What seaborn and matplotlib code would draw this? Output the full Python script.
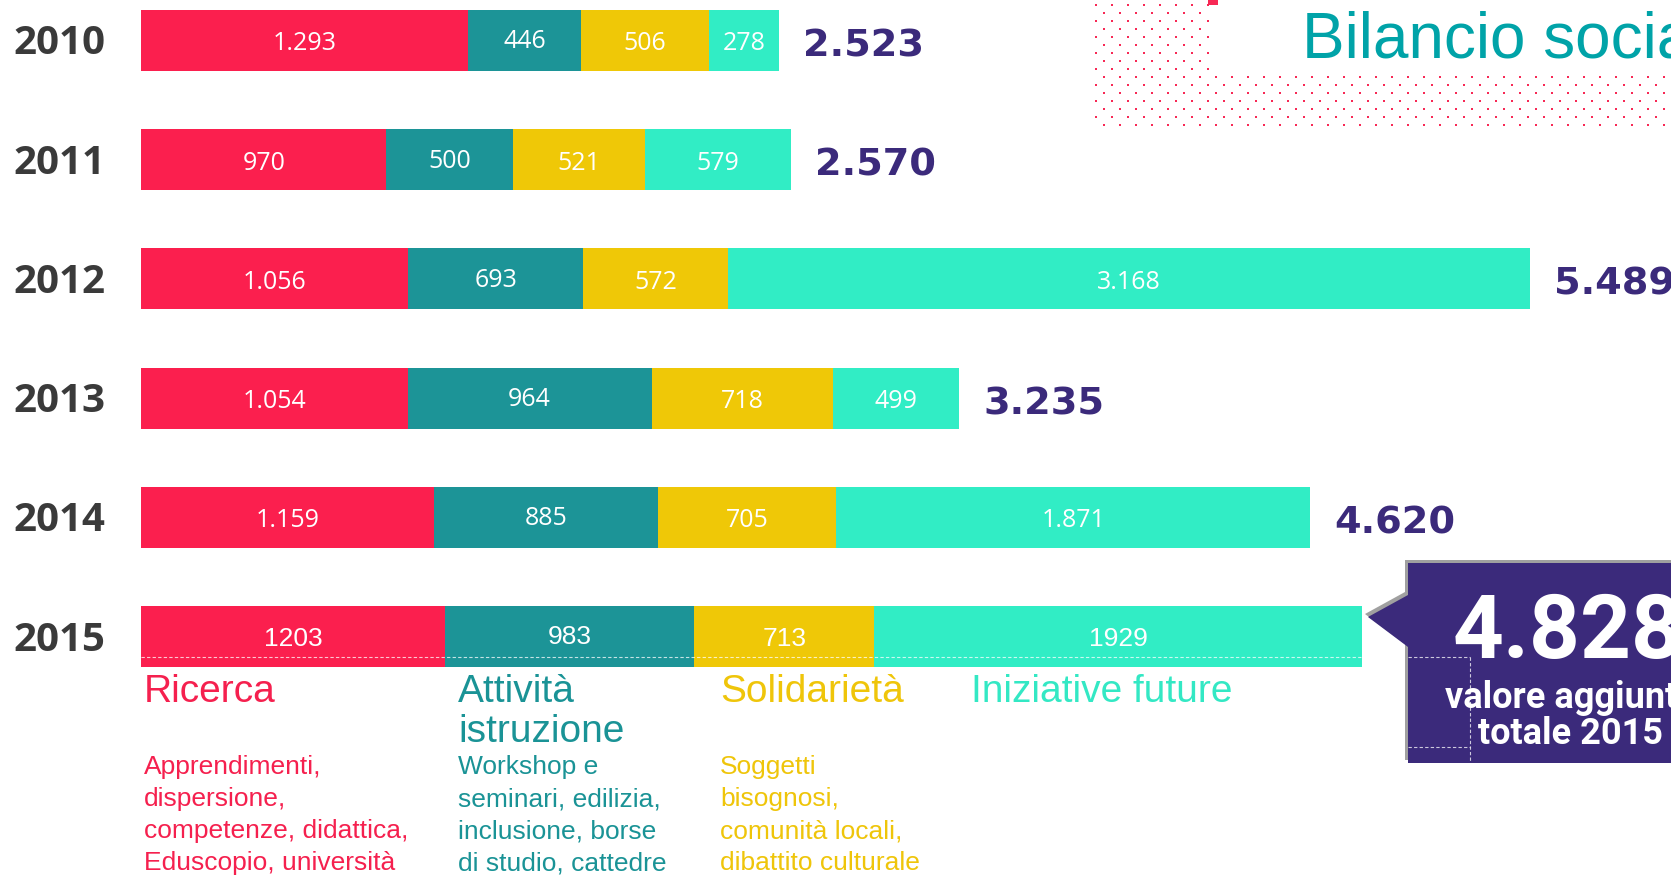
import numpy as np
import pandas as pd
import seaborn as sns
import matplotlib.pyplot as plt
from matplotlib.patches import Polygon, Rectangle

years = ["2010", "2011", "2012", "2013", "2014", "2015"]
categories = ["Ricerca", "Attività istruzione", "Solidarietà", "Iniziative future"]
ricerca = [1293, 970, 1056, 1054, 1159, 1203]
istruzione = [446, 500, 693, 964, 885, 983]
solidarieta = [506, 521, 572, 718, 705, 713]
future = [278, 579, 3168, 499, 1871, 1929]

category_titles = ["Ricerca", "Attività\nistruzione", "Solidarietà", "Iniziative future"]
descriptions = [
    ["Apprendimenti,", "dispersione,", "competenze, didattica,", "Eduscopio, università"],
    ["Workshop e", "seminari, edilizia,", "inclusione, borse", "di studio, cattedre"],
    ["Soggetti", "bisognosi,", "comunità locali,", "dibattito culturale"],
    [],
]
title = "Bilancio sociale"
callout_lines = ["valore aggiunto", "totale 2015"]

colors = {"Ricerca": "#FB1F4E", "Attività istruzione": "#1C9497",
          "Solidarietà": "#EFC807", "Iniziative future": "#31EDC5"}
text_colors = ["#F5204E", "#1A9396", "#EFC50A", "#33E8C4"]
purple = "#3B2A7B"
narrow = ["Liberation Sans Narrow", "Liberation Sans"]


def it_fmt(v):
    return f"{v:,}".replace(",", ".")


values = np.array([ricerca, istruzione, solidarieta, future]).T
cum = values.cumsum(axis=1)
totals = cum[:, -1]

rows = []
for i, yr in enumerate(years):
    for j, cat in enumerate(categories):
        rows.append({"year": yr, "category": cat, "value": values[i, j],
                     "start": cum[i, j] - values[i, j], "end": cum[i, j]})
df = pd.DataFrame(rows)

W, H = 1671, 875
x0, ppu = 141, 0.2530
row0, pitch = 40.5, 119.2

sns.set_theme(style="white")
fig = plt.figure(figsize=(W / 100, H / 100), dpi=100)
ax = fig.add_axes([0, 0, 1, 1])

# stacked bars: draw cumulative ends, largest first
sns.barplot(data=df, x="end", y="year", hue="category", order=years,
            hue_order=categories[::-1], palette=colors, dodge=False, orient="h",
            width=61 / pitch, saturation=1, errorbar=None, legend=False,
            linewidth=0, ax=ax)
ax.set_xlim(-x0 / ppu, (W - x0) / ppu)
ax.set_ylim((H - row0) / pitch, -row0 / pitch)
ax.axis("off")

for _, r in df.iterrows():
    i = years.index(r["year"])
    mid = r["start"] + r["value"] / 2
    dy = -2 if r["category"] == "Attività istruzione" else 0
    if r["year"] == "2015":
        ax.text(mid, i + (9.5 + dy) / pitch, str(r["value"]), color="white",
                fontsize=19, family=narrow, ha="center", va="baseline")
    else:
        ax.text(mid, i + (10 + dy) / pitch, it_fmt(r["value"]), color="white",
                fontsize=18, family="Open Sans", ha="center", va="baseline")

for i, yr in enumerate(years):
    ax.text(-128 / ppu, i + 14 / pitch, yr, color="#3A3A3A", fontsize=29,
            fontweight="bold", family="Open Sans", ha="left", va="baseline")
    if yr != "2015":
        ax.text(totals[i] + 24 / ppu, i + 16 / pitch, it_fmt(totals[i]), color=purple,
                fontsize=27.5, fontweight="bold", family="DejaVu Sans",
                ha="left", va="baseline")

# overlay in pixel coordinates for the decorations
ov = fig.add_axes([0, 0, 1, 1], facecolor="none")
ov.set_xlim(0, W)
ov.set_ylim(H, 0)
ov.axis("off")

for r, yy in enumerate(np.arange(5, 128, 8)):
    xs = np.arange(1096 + (8 if r % 2 else 0), 1212 if yy < 75 else W, 16)
    ov.scatter(xs, np.full(len(xs), yy), marker="s", s=3.5, color="#F72955",
               linewidths=0)
ov.add_patch(Rectangle((1208, 0), 10, 5, color="#F72955", lw=0))
ov.text(1302, 58, title, color="#00A3A8", fontsize=46, family=narrow,
        ha="left", va="baseline")

# guide lines left in the slide
dash = dict(color="white", lw=0.8, ls=(0, (3, 2)), alpha=0.75)
ov.plot([141, 1362], [657, 657], **dash)

# callout
pts = [(1408, 563), (W + 10, 563), (W + 10, 763), (1408, 763), (1408, 647),
       (1368, 617), (1408, 595)]
ov.add_patch(Polygon([(px - 3, py - 3) for px, py in pts], closed=True,
                     color="#A0A0A0", lw=0))
ov.add_patch(Polygon(pts, closed=True, color=purple, lw=0))
ov.plot([1408, 1470], [657, 657], **dash)
ov.plot([1470, 1470], [657, 763], **dash)
ov.plot([1408, 1470], [747, 747], **dash)
ov.text(1453, 658, it_fmt(totals[-1]), color="white", fontsize=64,
        fontweight="bold", family="Roboto", ha="left", va="baseline")
for k, line in enumerate(callout_lines):
    ov.text(1571, 708 + 36 * k, line, color="white", fontsize=26,
            fontweight="bold", family="Roboto", ha="center", va="baseline")

# category titles and descriptions
title_x = [144, 458, 720, 971]
for j, ttl in enumerate(category_titles):
    for k, line in enumerate(ttl.split("\n")):
        ov.text(title_x[j], 702 + 40 * k, line, color=text_colors[j], fontsize=28,
                family=narrow, ha="left", va="baseline")
    for k, line in enumerate(descriptions[j]):
        ov.text(title_x[j], 774 + 32 * k, line, color=text_colors[j], fontsize=19,
                family=narrow, ha="left", va="baseline")

fig.savefig("out.png", dpi=100)
